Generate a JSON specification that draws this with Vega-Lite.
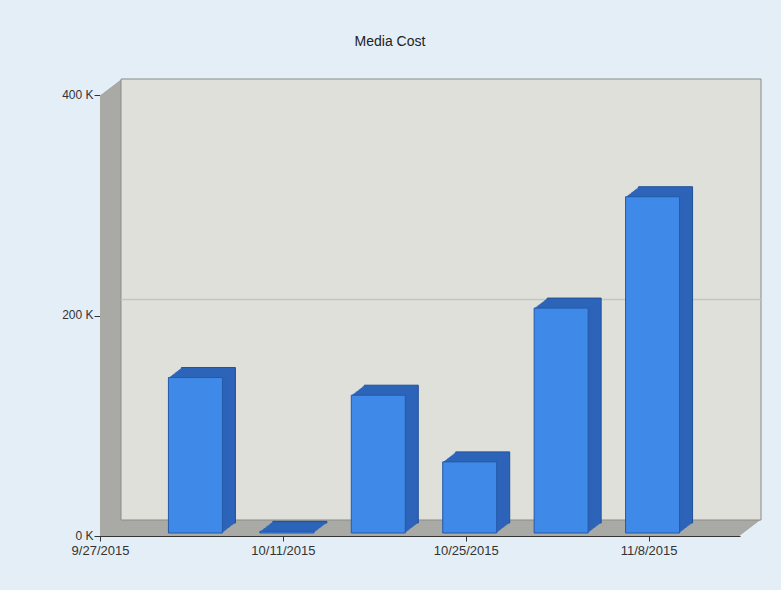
{
  "$schema": "https://vega.github.io/schema/vega-lite/v6.json",
  "width": 640,
  "height": 441,
  "autosize": {"type": "none"},
  "padding": {"left": 100, "top": 95, "right": 41, "bottom": 54},
  "background": "#e4eef7",
  "config": {"view": {"stroke": null}, "font": "Liberation Sans"},
  "title": {"text": "Media Cost", "frame": "group", "anchor": "middle", "dx": -30, "offset": 30, "fontSize": 14, "fontWeight": "normal", "color": "#222222", "font": "Liberation Sans"},
  "datasets": {
    "bars": [
      {"date": "2015-10-04", "cost": 141000},
      {"date": "2015-10-11", "cost": 1500},
      {"date": "2015-10-18", "cost": 125000},
      {"date": "2015-10-25", "cost": 64500},
      {"date": "2015-11-01", "cost": 204000},
      {"date": "2015-11-08", "cost": 305000}
    ],
    "frame": [
      {"date": "2015-09-27", "date2": "2015-11-15", "cost": 0, "cost2": 400000}
    ]
  },
  "data": {"name": "bars"},
  "encoding": {
    "x": {"field": "date", "type": "temporal", "title": null,
      "scale": {"type": "utc", "domain": [{"year": 2015, "month": 9, "date": 27, "utc": true}, {"year": 2015, "month": 11, "date": 15, "utc": true}], "nice": false, "padding": 0},
      "axis": {"values": [{"year": 2015, "month": 9, "date": 27, "utc": true}, {"year": 2015, "month": 10, "date": 11, "utc": true}, {"year": 2015, "month": 10, "date": 25, "utc": true}, {"year": 2015, "month": 11, "date": 8, "utc": true}],
        "labelExpr": "utcFormat(datum.value, '%-m/%-d/%Y')", "grid": false, "domainColor": "#333333", "tickColor": "#333333", "tickSize": 5, "labelPadding": 3, "labelFontSize": 13, "labelColor": "#333333", "labelFont": "Liberation Sans", "labelFlush": false, "labelOverlap": false}},
    "y": {"field": "cost", "type": "quantitative", "title": null,
      "scale": {"domain": [0, 400000], "nice": false, "zero": true, "padding": 0},
      "axis": {"values": [0, 200000, 400000], "labelExpr": "(datum.value / 1000) + ' K'", "grid": false, "domainColor": "#333333", "tickColor": "#333333", "tickSize": 6, "labelPadding": 1, "labelOffset": -1, "labelFontSize": 12, "labelColor": "#333333", "labelFont": "Liberation Sans"}}
  },
  "layer": [
    {"data": {"name": "frame"}, "mark": {"type": "rect", "fill": "#a9aaa5", "xOffset": 0, "x2Offset": 0, "yOffset": 0, "y2Offset": 0}, "encoding": {"x2": {"field": "date2"}, "y2": {"field": "cost2"}}},
    {"data": {"name": "frame"}, "mark": {"type": "rect", "fill": "#a9aaa5", "xOffset": 1.31, "x2Offset": 1.31, "yOffset": -1, "y2Offset": -1}, "encoding": {"x2": {"field": "date2"}, "y2": {"field": "cost2"}}},
    {"data": {"name": "frame"}, "mark": {"type": "rect", "fill": "#a9aaa5", "xOffset": 2.63, "x2Offset": 2.63, "yOffset": -2, "y2Offset": -2}, "encoding": {"x2": {"field": "date2"}, "y2": {"field": "cost2"}}},
    {"data": {"name": "frame"}, "mark": {"type": "rect", "fill": "#a9aaa5", "xOffset": 3.94, "x2Offset": 3.94, "yOffset": -3, "y2Offset": -3}, "encoding": {"x2": {"field": "date2"}, "y2": {"field": "cost2"}}},
    {"data": {"name": "frame"}, "mark": {"type": "rect", "fill": "#a9aaa5", "xOffset": 5.25, "x2Offset": 5.25, "yOffset": -4, "y2Offset": -4}, "encoding": {"x2": {"field": "date2"}, "y2": {"field": "cost2"}}},
    {"data": {"name": "frame"}, "mark": {"type": "rect", "fill": "#a9aaa5", "xOffset": 6.56, "x2Offset": 6.56, "yOffset": -5, "y2Offset": -5}, "encoding": {"x2": {"field": "date2"}, "y2": {"field": "cost2"}}},
    {"data": {"name": "frame"}, "mark": {"type": "rect", "fill": "#a9aaa5", "xOffset": 7.88, "x2Offset": 7.88, "yOffset": -6, "y2Offset": -6}, "encoding": {"x2": {"field": "date2"}, "y2": {"field": "cost2"}}},
    {"data": {"name": "frame"}, "mark": {"type": "rect", "fill": "#a9aaa5", "xOffset": 9.19, "x2Offset": 9.19, "yOffset": -7, "y2Offset": -7}, "encoding": {"x2": {"field": "date2"}, "y2": {"field": "cost2"}}},
    {"data": {"name": "frame"}, "mark": {"type": "rect", "fill": "#a9aaa5", "xOffset": 10.5, "x2Offset": 10.5, "yOffset": -8, "y2Offset": -8}, "encoding": {"x2": {"field": "date2"}, "y2": {"field": "cost2"}}},
    {"data": {"name": "frame"}, "mark": {"type": "rect", "fill": "#a9aaa5", "xOffset": 11.81, "x2Offset": 11.81, "yOffset": -9, "y2Offset": -9}, "encoding": {"x2": {"field": "date2"}, "y2": {"field": "cost2"}}},
    {"data": {"name": "frame"}, "mark": {"type": "rect", "fill": "#a9aaa5", "xOffset": 13.13, "x2Offset": 13.13, "yOffset": -10, "y2Offset": -10}, "encoding": {"x2": {"field": "date2"}, "y2": {"field": "cost2"}}},
    {"data": {"name": "frame"}, "mark": {"type": "rect", "fill": "#a9aaa5", "xOffset": 14.44, "x2Offset": 14.44, "yOffset": -11, "y2Offset": -11}, "encoding": {"x2": {"field": "date2"}, "y2": {"field": "cost2"}}},
    {"data": {"name": "frame"}, "mark": {"type": "rect", "fill": "#a9aaa5", "xOffset": 15.75, "x2Offset": 15.75, "yOffset": -12, "y2Offset": -12}, "encoding": {"x2": {"field": "date2"}, "y2": {"field": "cost2"}}},
    {"data": {"name": "frame"}, "mark": {"type": "rect", "fill": "#a9aaa5", "xOffset": 17.06, "x2Offset": 17.06, "yOffset": -13, "y2Offset": -13}, "encoding": {"x2": {"field": "date2"}, "y2": {"field": "cost2"}}},
    {"data": {"name": "frame"}, "mark": {"type": "rect", "fill": "#a9aaa5", "xOffset": 18.38, "x2Offset": 18.38, "yOffset": -14, "y2Offset": -14}, "encoding": {"x2": {"field": "date2"}, "y2": {"field": "cost2"}}},
    {"data": {"name": "frame"}, "mark": {"type": "rect", "fill": "#a9aaa5", "xOffset": 19.69, "x2Offset": 19.69, "yOffset": -15, "y2Offset": -15}, "encoding": {"x2": {"field": "date2"}, "y2": {"field": "cost2"}}},
    {"data": {"name": "frame"}, "mark": {"type": "rect", "fill": "#dfe0da", "stroke": "#8a8b86", "strokeWidth": 1, "xOffset": 21, "x2Offset": 21, "yOffset": -16, "y2Offset": -16}, "encoding": {"x2": {"field": "date2"}, "y2": {"field": "cost2"}}},
    {"data": {"name": "frame"}, "mark": {"type": "rule", "color": "#c4c5c0", "strokeWidth": 1.5, "xOffset": 21, "x2Offset": 21, "yOffset": -16}, "encoding": {"x2": {"field": "date2"}, "y": {"datum": 200000}}},
    {"mark": {"type": "bar", "width": 54, "fill": "#2d64b9", "stroke": "#214f97", "strokeWidth": 1, "xOffset": 17, "yOffset": -13, "y2Offset": -13}},
    {"mark": {"type": "bar", "width": 54, "fill": "#2d64b9", "xOffset": 15.92, "yOffset": -12.17, "y2Offset": -12.17}},
    {"mark": {"type": "bar", "width": 54, "fill": "#2d64b9", "xOffset": 14.83, "yOffset": -11.33, "y2Offset": -11.33}},
    {"mark": {"type": "bar", "width": 54, "fill": "#2d64b9", "xOffset": 13.75, "yOffset": -10.5, "y2Offset": -10.5}},
    {"mark": {"type": "bar", "width": 54, "fill": "#2d64b9", "xOffset": 12.67, "yOffset": -9.67, "y2Offset": -9.67}},
    {"mark": {"type": "bar", "width": 54, "fill": "#2d64b9", "xOffset": 11.58, "yOffset": -8.83, "y2Offset": -8.83}},
    {"mark": {"type": "bar", "width": 54, "fill": "#2d64b9", "xOffset": 10.5, "yOffset": -8, "y2Offset": -8}},
    {"mark": {"type": "bar", "width": 54, "fill": "#2d64b9", "xOffset": 9.42, "yOffset": -7.17, "y2Offset": -7.17}},
    {"mark": {"type": "bar", "width": 54, "fill": "#2d64b9", "xOffset": 8.33, "yOffset": -6.33, "y2Offset": -6.33}},
    {"mark": {"type": "bar", "width": 54, "fill": "#2d64b9", "xOffset": 7.25, "yOffset": -5.5, "y2Offset": -5.5}},
    {"mark": {"type": "bar", "width": 54, "fill": "#2d64b9", "xOffset": 6.17, "yOffset": -4.67, "y2Offset": -4.67}},
    {"mark": {"type": "bar", "width": 54, "fill": "#2d64b9", "xOffset": 5.08, "yOffset": -3.83, "y2Offset": -3.83}},
    {"mark": {"type": "bar", "width": 54, "fill": "#3f8ae8", "stroke": "#2459a8", "strokeWidth": 1, "xOffset": 4, "yOffset": -3, "y2Offset": -3}}
  ]
}
